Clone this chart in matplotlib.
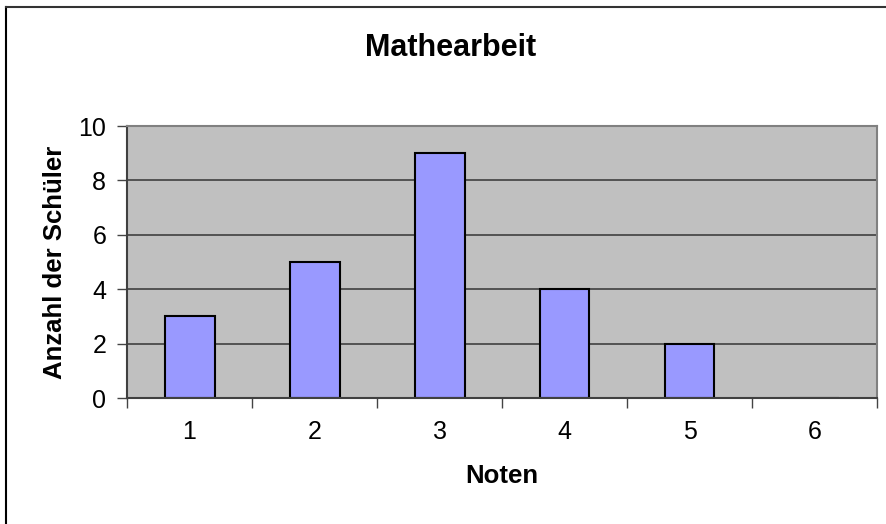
import matplotlib
matplotlib.use("Agg")
from matplotlib import pyplot as plt
from matplotlib.lines import Line2D

# data
noten = [1, 2, 3, 4, 5, 6]
anzahl = [3, 5, 9, 4, 2, 0]
y_ticks = [0, 2, 4, 6, 8, 10]

plt.rcParams['font.family'] = ['Liberation Sans', 'DejaVu Sans']

fig = plt.figure(figsize=(8.87, 5.24), dpi=100)
fig.patch.set_facecolor('white')

# plot area in pixels: x 127..877, y 126..398
W, H = 887, 524
ax = fig.add_axes([127 / W, 1 - 398 / H, 750 / W, 272 / H])
ax.set_facecolor('#C0C0C0')

ax.bar(noten, anzahl, width=0.4, color='#9999FF', edgecolor='black', linewidth=1.5, zorder=2)

ax.set_xlim(0.5, 6.5)
ax.set_ylim(0, 10)
ax.set_yticks(y_ticks)
ax.set_yticklabels([str(v) for v in y_ticks], fontsize=18)
ax.set_xticks(noten)
ax.set_xticklabels([str(n) for n in noten], fontsize=18)
ax.tick_params(axis='x', length=0, pad=16)
ax.tick_params(axis='y', length=7, width=1, color='#444444', pad=8)

# category-boundary ticks on x axis
ax.set_xticks([0.5 + i for i in range(7)], minor=True)
ax.tick_params(axis='x', which='minor', length=7, width=1, color='#444444')

for v in y_ticks[1:]:
    ax.axhline(v, color='#404040', linewidth=1.2, zorder=1)

for side in ['top', 'right']:
    ax.spines[side].set_color('#808080')
    ax.spines[side].set_linewidth(1.5)
for side in ['left', 'bottom']:
    ax.spines[side].set_color('#404040')
    ax.spines[side].set_linewidth(1.5)

ax.set_xlabel('Noten', fontsize=18.5, fontweight='bold', labelpad=14)
ax.set_ylabel('Anzahl der Schüler', fontsize=18.5, fontweight='bold', labelpad=8)

fig.text(451 / W, 1 - 56 / H, 'Mathearbeit', fontsize=22, fontweight='bold',
         ha='center', va='baseline')

# outer chart border (top and left only visible)
fig.add_artist(Line2D([6 / W, 6 / W], [0, 1 - 7 / H], color='black', linewidth=1.5,
                      transform=fig.transFigure))
fig.add_artist(Line2D([6 / W, 1], [1 - 7 / H, 1 - 7 / H], color='#333333', linewidth=1.5,
                      transform=fig.transFigure))

fig.savefig('out.png', dpi=100)
